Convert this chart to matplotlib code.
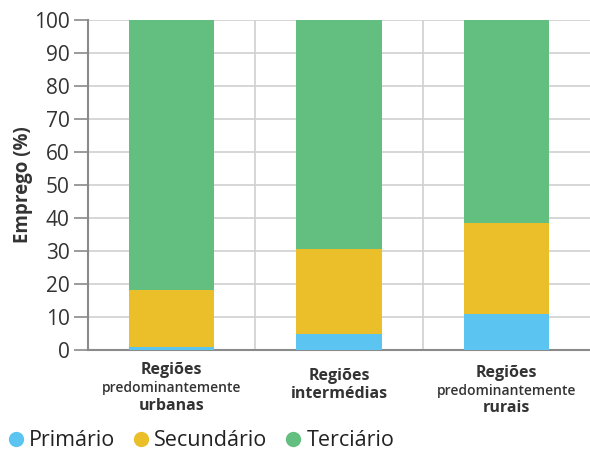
import matplotlib.pyplot as plt
from matplotlib.lines import Line2D
from matplotlib.transforms import blended_transform_factory

# emprego por setor e tipo de regiao (%)
regioes = ["urbanas", "intermédias", "rurais"]
primario = [1.0, 4.9, 11.0]
secundario = [17.3, 25.8, 27.5]
terciario = [81.7, 69.3, 61.5]
setores = ["Primário", "Secundário", "Terciário"]
cores = ["#5bc4f1", "#ebbf2a", "#62bf7f"]

# rotulos das categorias: (texto, tamanho, negrito)
rotulos = [
    [("Regiões", 11.5, True), ("predominantemente", 10, False), ("urbanas", 11.5, True)],
    [("Regiões", 11.5, True), ("intermédias", 11.5, True)],
    [("Regiões", 11.5, True), ("predominantemente", 10, False), ("rurais", 11.5, True)],
]
topo_rotulo = [-14.5, -19, -16.5]

plt.rcParams["font.family"] = ["Open Sans", "DejaVu Sans"]

fig = plt.figure(figsize=(5.9, 4.55), dpi=100)
ax = fig.add_axes([0.149, 0.231, 0.851, 0.725])

x = range(len(regioes))
base2 = [p + s for p, s in zip(primario, secundario)]
ax.bar(x, primario, width=0.51, color=cores[0], zorder=3)
ax.bar(x, secundario, width=0.51, bottom=primario, color=cores[1], zorder=3)
ax.bar(x, terciario, width=0.51, bottom=base2, color=cores[2], zorder=3)

ax.set_xlim(-0.5, 2.5)
ax.set_ylim(0, 100)
ax.set_yticks(range(0, 101, 10))
ax.tick_params(axis="y", labelsize=15, colors="#333333", length=10, width=1.2,
               color="#8a8a8a", pad=3)
ax.set_xticks([0.5, 1.5])
ax.set_xticklabels([])
ax.tick_params(axis="x", length=0)
ax.grid(True, color="#d0d0d0", linewidth=1.2, zorder=0)

for s in ["top", "right"]:
    ax.spines[s].set_visible(False)
for s in ["left", "bottom"]:
    ax.spines[s].set_color("#8a8a8a")
    ax.spines[s].set_linewidth(1.5)

ax.set_ylabel("Emprego (%)", fontsize=13.5, fontweight="bold", color="#333333", labelpad=1)

trans = blended_transform_factory(ax.transData, ax.transAxes)
for i, linhas in enumerate(rotulos):
    for j, (txt, size, bold) in enumerate(linhas):
        ax.annotate(txt, xy=(i, 0), xycoords=trans, xytext=(0, topo_rotulo[i] - j * 12.8),
                    textcoords="offset points", ha="center", va="center",
                    fontsize=size, fontweight="bold" if bold else "semibold",
                    color="#333333")

handles = [Line2D([], [], marker="o", linestyle="", markersize=10, color=c) for c in cores]
fig.legend(handles, setores, loc="lower left", bbox_to_anchor=(-0.016, -0.02), ncol=3,
           frameon=False, fontsize=15.5, handletextpad=0.0, columnspacing=0.6,
           handlelength=1.2, borderaxespad=0.2, labelcolor="#222222")

fig.savefig("out.png", dpi=100)
